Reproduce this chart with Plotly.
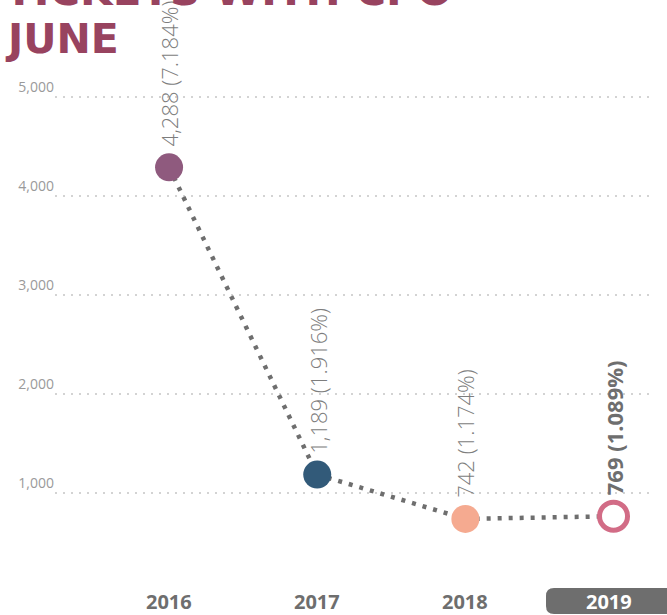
import plotly.graph_objects as go

# Yearly June figures
years = ["2016", "2017", "2018", "2019"]
tickets = [4288, 1189, 742, 769]
share_pct = [7.184, 1.916, 1.174, 1.089]
y_ticks = [1000, 2000, 3000, 4000, 5000]

title_line1 = "TICKETS WITH CPO"
title_line2 = "JUNE"

TITLE_COLOR = "#98435f"
GRAY = "#6e6e6e"
LABEL_GRAY = "#7d7d7d"
FONT = "Open Sans"
TITLE_FONT = "DejaVu Sans"

marker_fill = ["#8f5a7e", "#325a79", "#f5aa90", "#ffffff"]
marker_line = ["#8f5a7e", "#325a79", "#f5aa90", "#d26c86"]
marker_line_w = [0, 0, 0, 5]

W, H = 667, 615
M = dict(l=55, r=12, t=60, b=40)
plot_h = H - M["t"] - M["b"]
plot_w = W - M["l"] - M["r"]


def py(px):
    """Pixel row -> paper y."""
    return (H - M["b"] - px) / plot_h


def px_(px):
    """Pixel column -> paper x."""
    return (px - M["l"]) / plot_w


fig = go.Figure()

# dotted connecting line
fig.add_trace(go.Scatter(
    x=years, y=tickets, mode="lines",
    line=dict(color=GRAY, width=4.5, dash="4px,7px"),
    hoverinfo="skip", showlegend=False,
))

# year markers
fig.add_trace(go.Scatter(
    x=years, y=tickets, mode="markers",
    marker=dict(size=28, color=marker_fill,
                line=dict(color=marker_line, width=marker_line_w)),
    hoverinfo="skip", showlegend=False,
))

annotations = []

# value labels, rotated above each point (category index as x position)
last = len(years) - 1
for i, (v, p) in enumerate(zip(tickets, share_pct)):
    is_last = i == last
    annotations.append(dict(
        x=i, y=v, xref="x", yref="y",
        text=f"{v:,} ({p:.3f}%)",
        textangle=-90, showarrow=False,
        xanchor="center", yanchor="bottom", yshift=19,
        font=dict(family=FONT, size=22, color=GRAY if is_last else LABEL_GRAY,
                  weight=700 if is_last else 300),
    ))

# year labels under the axis
for i, yr in enumerate(years):
    is_last = i == last
    annotations.append(dict(
        x=i, y=py(601), xref="x", yref="paper",
        text=yr, showarrow=False,
        xanchor="center", yanchor="middle",
        xshift=-5 if is_last else 0,
        font=dict(family=FONT, size=20, weight=700,
                  color="#ffffff" if is_last else GRAY),
    ))

# two-line heading
annotations.append(dict(
    x=px_(3), y=py(-10), xref="paper", yref="paper",
    text=title_line1, showarrow=False, xanchor="left", yanchor="middle",
    font=dict(family=TITLE_FONT, size=42, weight=700, color=TITLE_COLOR),
))
annotations.append(dict(
    x=px_(3), y=py(39), xref="paper", yref="paper",
    text=title_line2, showarrow=False, xanchor="left", yanchor="middle",
    font=dict(family=TITLE_FONT, size=41, weight=700, color=TITLE_COLOR),
))

# highlight tab behind the current year
x0, x1 = px_(546), px_(690)
y_top, y_bot = py(588), py(614)
rx, ry = 8 / plot_w, 8 / plot_h
tab_path = (
    f"M {x0 + rx},{y_top} L {x1},{y_top} L {x1},{y_bot} L {x0 + rx},{y_bot} "
    f"Q {x0},{y_bot} {x0},{y_bot + ry} L {x0},{y_top - ry} "
    f"Q {x0},{y_top} {x0 + rx},{y_top} Z"
)
shapes = [dict(type="path", path=tab_path, xref="paper", yref="paper",
               fillcolor=GRAY, line=dict(width=0), layer="below")]

fig.update_layout(
    width=W, height=H, margin=M,
    paper_bgcolor="white", plot_bgcolor="white",
    annotations=annotations, shapes=shapes,
    xaxis=dict(
        type="category", range=[-0.77, 3.28],
        showgrid=False, zeroline=False, showline=False,
        showticklabels=False, ticks="",
    ),
    yaxis=dict(
        range=[176, 5371],
        tickvals=y_ticks, tickformat=",d",
        ticklabelposition="outside top",
        tickfont=dict(family=FONT, size=14, color="#9a9a9a"),
        showgrid=True, gridcolor="#d3d3d3", gridwidth=2, griddash="2px,6px",
        zeroline=False, showline=False, ticks="",
    ),
)

fig.write_html("out.html")
